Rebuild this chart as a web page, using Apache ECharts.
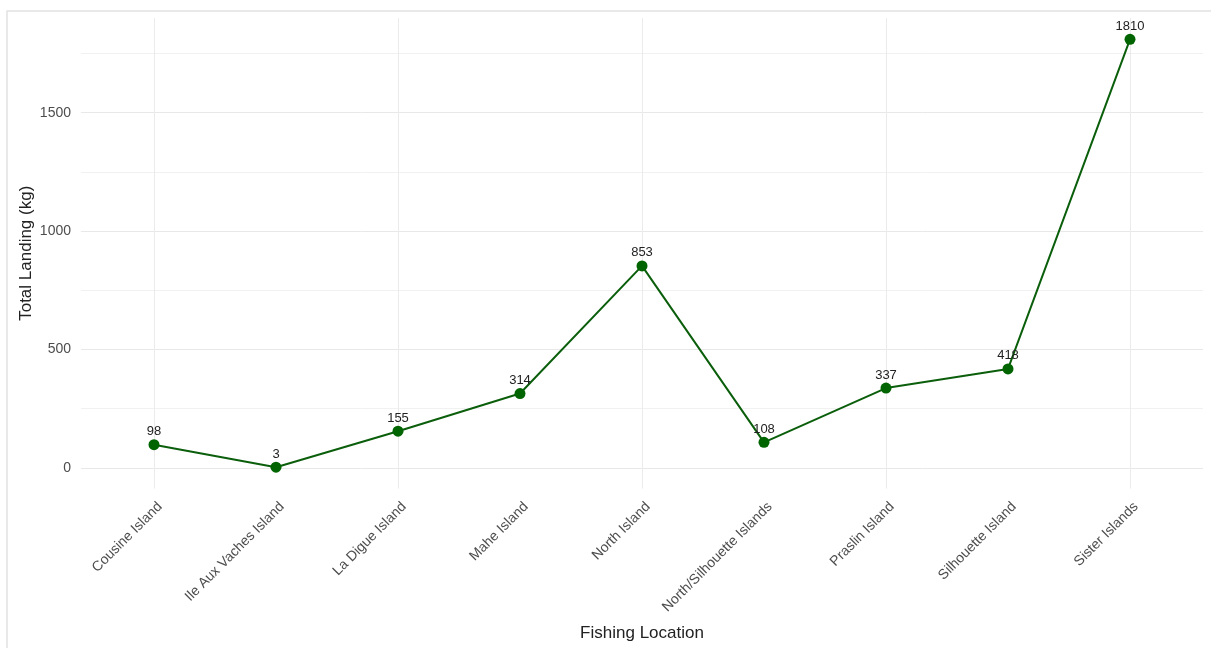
<!DOCTYPE html>
<html><head><meta charset="utf-8">
<script src="https://cdn.jsdelivr.net/npm/echarts@6/dist/echarts.min.js"></script>
<style>html,body{margin:0;padding:0;background:#fff}#c{width:1211px;height:648px}</style>
</head><body><div id="c"></div>
<script>
// ---- data ----
const categories = ['Cousine Island','Ile Aux Vaches Island','La Digue Island','Mahe Island','North Island','North/Silhouette Islands','Praslin Island','Silhouette Island','Sister Islands'];
const landings = [98, 3, 155, 314, 853, 108, 337, 418, 1810];
const yLabelStep = 500;     // labelled (major) gridlines
const yGridStep = 250;      // major + minor gridlines
const xTitle = 'Fishing Location';
const yTitle = 'Total Landing (kg)';
const yLow = -87, yHigh = 1900;   // panel range (ggplot-style padding)

// ---- layout ----
const FONT = "'Liberation Sans', Arial, sans-serif";
const panelTop = 18, panelH = 470.5;
const k = panelH / (yHigh - yLow);
const gridH1 = yHigh * k;
const dataLeft = 93, dataW = 1098;
const labelShift = 6;

const chart = echarts.init(document.getElementById('c'), null, {renderer: 'canvas'});
chart.setOption({
  animation: false,
  backgroundColor: '#ffffff',
  graphic: [{
    type: 'rect', shape: {x: 7, y: 11, width: 1400, height: 800},
    style: {fill: 'none', stroke: '#e2e2e2', lineWidth: 1.5}, z: -10, silent: true
  }],
  grid: [
    {left: dataLeft, top: panelTop, width: dataW, height: panelH},
    {left: 81, right: 8, top: panelTop, height: gridH1},
    {left: dataLeft + labelShift, top: panelTop, width: dataW, height: panelH}
  ],
  xAxis: [
    {
      type: 'category', gridIndex: 0, data: categories, boundaryGap: true,
      axisLine: {show: false}, axisTick: {show: false}, axisLabel: {show: false},
      splitLine: {show: true, alignWithLabel: true, lineStyle: {color: '#ebebeb', width: 1}},
      name: xTitle, nameLocation: 'middle', nameGap: 136,
      nameTextStyle: {fontFamily: FONT, fontSize: 17, color: '#222'}
    },
    {
      type: 'category', gridIndex: 1, data: categories, show: false
    },
    {
      type: 'category', gridIndex: 2, data: categories, boundaryGap: true,
      axisLine: {show: false}, axisTick: {show: false}, splitLine: {show: false},
      axisLabel: {show: true, interval: 0, rotate: 45, margin: 16,
        fontFamily: FONT, fontSize: 14, color: '#4d4d4d'}
    }
  ],
  yAxis: [
    {
      type: 'value', gridIndex: 0, min: yLow, max: yHigh,
      axisLine: {show: false}, axisTick: {show: false}, axisLabel: {show: false},
      splitLine: {show: false},
      name: yTitle, nameLocation: 'middle', nameGap: 58,
      nameTextStyle: {fontFamily: FONT, fontSize: 17, color: '#222'}
    },
    {
      type: 'value', gridIndex: 1, min: 0, max: yHigh, interval: yGridStep,
      axisLine: {show: false}, axisTick: {show: false},
      axisLabel: {show: true, margin: 10, showMaxLabel: false,
        fontFamily: FONT, fontSize: 14, color: '#4d4d4d',
        formatter: function (v) { return (v % yLabelStep === 0) ? String(v) : ''; }},
      splitLine: {show: true, showMaxLine: false,
        lineStyle: {color: ['#e8e8e8', '#f1f1f1'], width: 1}}
    },
    {
      type: 'value', gridIndex: 2, show: false, min: yLow, max: yHigh
    }
  ],
  series: [{
    type: 'line', xAxisIndex: 0, yAxisIndex: 0, data: landings,
    symbol: 'circle', symbolSize: 11,
    lineStyle: {color: '#0b5e0b', width: 2},
    itemStyle: {color: '#006400'},
    label: {show: true, position: 'top', distance: 1,
      fontFamily: FONT, fontSize: 13, color: '#222'},
    z: 5
  }]
});
</script>
</body></html>
